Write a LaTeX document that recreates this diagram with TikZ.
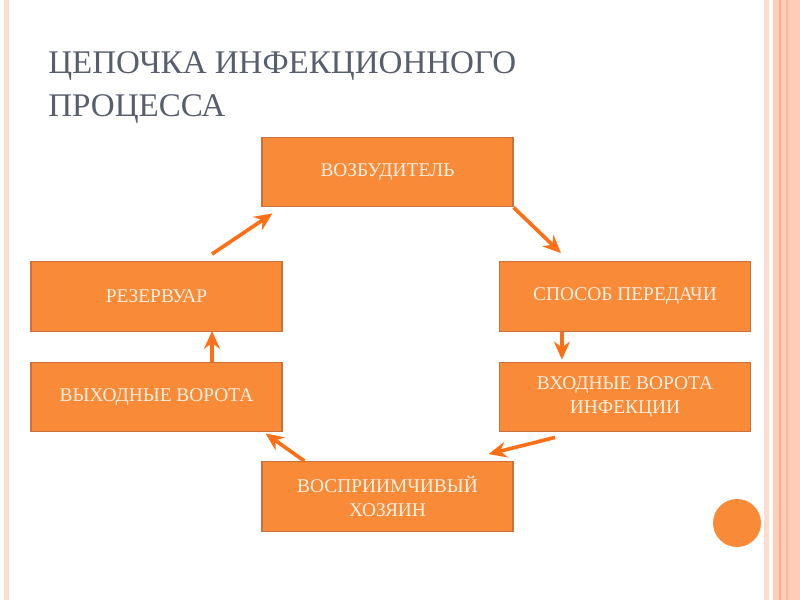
\documentclass[tikz,border=0pt]{standalone}
\usepackage{fontspec}
\setmainfont{Liberation Serif}
\usepackage{xcolor}
\usepackage{tikz}
\usetikzlibrary{arrows.meta, positioning}
\definecolor{boxcolor}{RGB}{249,138,56}
\definecolor{edgecolor}{RGB}{200,112,62}
\definecolor{arrowcolor}{RGB}{255,112,22}
\definecolor{textcolor}{RGB}{255,240,226}
\definecolor{titlecolor}{RGB}{88,94,108}
\definecolor{stripecolor}{RGB}{255,204,186}
\definecolor{palestripe}{RGB}{255,220,208}
\definecolor{darkstripe}{RGB}{248,176,140}

\begin{document}
\begin{tikzpicture}[
    x=0.025cm, y=-0.025cm,
    stage/.style={draw=edgecolor, line width=0.9pt, fill=boxcolor, text=textcolor,
        minimum width=6.27cm, minimum height=1.74cm, align=center,
        font=\fontsize{13.8}{17}\selectfont},
    arrow/.style={-{Stealth[length=4.5mm, width=4mm, inset=1.5mm]}, line width=2.6pt, arrowcolor}
]
    \useasboundingbox (0,0) rectangle (800,600);

    % Slide decoration
    \fill[palestripe] (4,0) rectangle (9,600);
    \fill[palestripe] (764,0) rectangle (769,600);
    \fill[stripecolor] (773,0) rectangle (800,600);
    \fill[darkstripe] (779,0) rectangle (781,600);
    \fill[darkstripe!70!stripecolor] (786,0) rectangle (788,600);
    \fill[boxcolor] (737,523) circle (24);

    % Title
    \node[anchor=north west, inner sep=0, align=left, text=titlecolor,
        font=\fontsize{23.5}{30.5}\selectfont] (title) at (48,51)
        {ЦЕПОЧКА ИНФЕКЦИОННОГО\\ПРОЦЕССА};

    % Chain
    \node[stage] (agent) at (387.5,172) {ВОЗБУДИТЕЛЬ};
    \node[stage] (route) at (625,296.5) {СПОСОБ ПЕРЕДАЧИ};
    \node[stage] (entry) at (625,397) {ВХОДНЫЕ ВОРОТА\\ИНФЕКЦИИ};
    \node[stage] (host) at (387.5,496.5) {ВОСПРИИМЧИВЫЙ\\ХОЗЯИН};
    \node[stage] (exit) at (156.5,397) {ВЫХОДНЫЕ ВОРОТА};
    \node[stage] (reservoir) at (156.5,296.5) {РЕЗЕРВУАР};

    % Arrows
    \draw[arrow] ([shift={(55.5,-7)}]reservoir.north) -- ([shift={(11,6)}]agent.south west);
    \draw[arrow] (agent.south east) -- ([shift={(62,-8)}]route.north west);
    \draw[arrow] ([shift={(63,0)}]route.south west) -- ([shift={(63,-2)}]entry.north west);
    \draw[arrow] ([shift={(56,5)}]entry.south west) -- ([shift={(-25,-7)}]host.north east);
    \draw[arrow] ([shift={(43,0)}]host.north west) -- ([shift={(-17,1)}]exit.south east);
    \draw[arrow] ([shift={(55.5,0)}]exit.north) -- ([shift={(55.5,-1)}]reservoir.south);
\end{tikzpicture}
\end{document}
